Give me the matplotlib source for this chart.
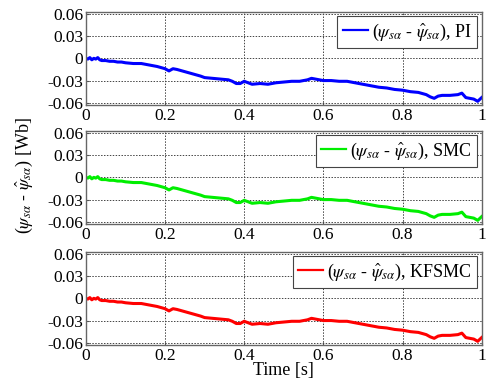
import matplotlib
matplotlib.use("Agg")
import matplotlib.pyplot as plt
from matplotlib.lines import Line2D

plt.rcParams['font.family'] = ['Liberation Serif', 'DejaVu Serif']
plt.rcParams['mathtext.fontset'] = 'stix'

time_s = [0, 0.005, 0.01, 0.015, 0.02, 0.025, 0.03, 0.035, 0.04,
          0.05, 0.06, 0.07, 0.08, 0.09, 0.10,
          0.12, 0.14, 0.15, 0.16, 0.18, 0.20,
          0.21, 0.22, 0.23, 0.25, 0.27, 0.29, 0.30,
          0.32, 0.34, 0.36, 0.37, 0.38, 0.39, 0.40,
          0.42, 0.44, 0.46, 0.48, 0.50,
          0.52, 0.54, 0.56, 0.57, 0.58, 0.60,
          0.62, 0.64, 0.66, 0.68, 0.70,
          0.72, 0.74, 0.76, 0.78, 0.80,
          0.82, 0.84, 0.86, 0.87, 0.88, 0.89, 0.90,
          0.92, 0.94, 0.95, 0.96, 0.97, 0.98, 0.99, 1.00]

flux_err_pi = [0.000, -0.001, 0.001, -0.002, 0.000, -0.001, 0.001, -0.002, -0.003,
               -0.003, -0.004, -0.004, -0.005, -0.005, -0.006,
               -0.007, -0.007, -0.008, -0.009, -0.011, -0.014,
               -0.017, -0.014, -0.015, -0.018, -0.021, -0.024, -0.026,
               -0.027, -0.028, -0.029, -0.031, -0.034, -0.034, -0.031,
               -0.035, -0.034, -0.035, -0.033, -0.032,
               -0.031, -0.031, -0.029, -0.027, -0.028, -0.030,
               -0.030, -0.031, -0.031, -0.033, -0.035,
               -0.037, -0.039, -0.040, -0.042, -0.043,
               -0.045, -0.046, -0.049, -0.052, -0.054, -0.051, -0.050,
               -0.050, -0.049, -0.047, -0.053, -0.054, -0.055, -0.058, -0.053]
flux_err_smc = list(flux_err_pi)
flux_err_kfsmc = list(flux_err_pi)

series = [flux_err_pi, flux_err_smc, flux_err_kfsmc]
labels = ['PI', 'SMC', 'KFSMC']
colors = ['#0000ff', '#00ee00', '#ff0000']
yticks = [-0.06, -0.03, 0, 0.03, 0.06]
ytick_labels = ['-0.06', '-0.03', '0', '0.03', '0.06']
xticks = [0, 0.2, 0.4, 0.6, 0.8, 1]
xtick_labels = ['0', '0.2', '0.4', '0.6', '0.8', '1']

fig = plt.figure(figsize=(4.88, 3.81), dpi=100)
bottoms = [0.7244, 0.412, 0.0945]
for vals, lab, col, b in zip(series, labels, colors, bottoms):
    ax = fig.add_axes([0.176, b, 0.811, 0.245])
    ax.plot(time_s, vals, color=col, lw=2.2)
    ax.set_xlim(0, 1)
    ax.set_ylim(-0.063, 0.063)
    ax.set_yticks(yticks)
    ax.set_yticklabels(ytick_labels)
    ax.set_xticks(xticks)
    ax.set_xticklabels(xtick_labels)
    ax.tick_params(labelsize=12.5, direction='in', length=2, color='#555555', pad=2)
    ax.grid(True, linestyle=(0, (1.5, 1.5)), color='#444444', lw=0.7)
    for s in ax.spines.values():
        s.set_color('#666666')
        s.set_linewidth(1.0)
    handle = Line2D([], [], color=col, lw=1.6)
    leg = ax.legend([handle],
                    [r'($\psi_{s\alpha}$ - $\hat{\psi}_{s\alpha}$), ' + lab],
                    loc='upper right', fontsize=13, fancybox=False,
                    framealpha=1, edgecolor='#444444', handlelength=1.4,
                    handletextpad=0.2, borderpad=0.3, borderaxespad=0.25)
    leg.get_frame().set_linewidth(0.8)
    if lab == 'KFSMC':
        ax.set_xlabel('Time [s]', fontsize=13, labelpad=-1)

fig.text(0.051, 0.538, r'($\psi_{s\alpha}$ - $\hat{\psi}_{s\alpha}$) [Wb]',
         rotation=90, ha='center', va='center', fontsize=13)

fig.savefig('out.png', dpi=100)
